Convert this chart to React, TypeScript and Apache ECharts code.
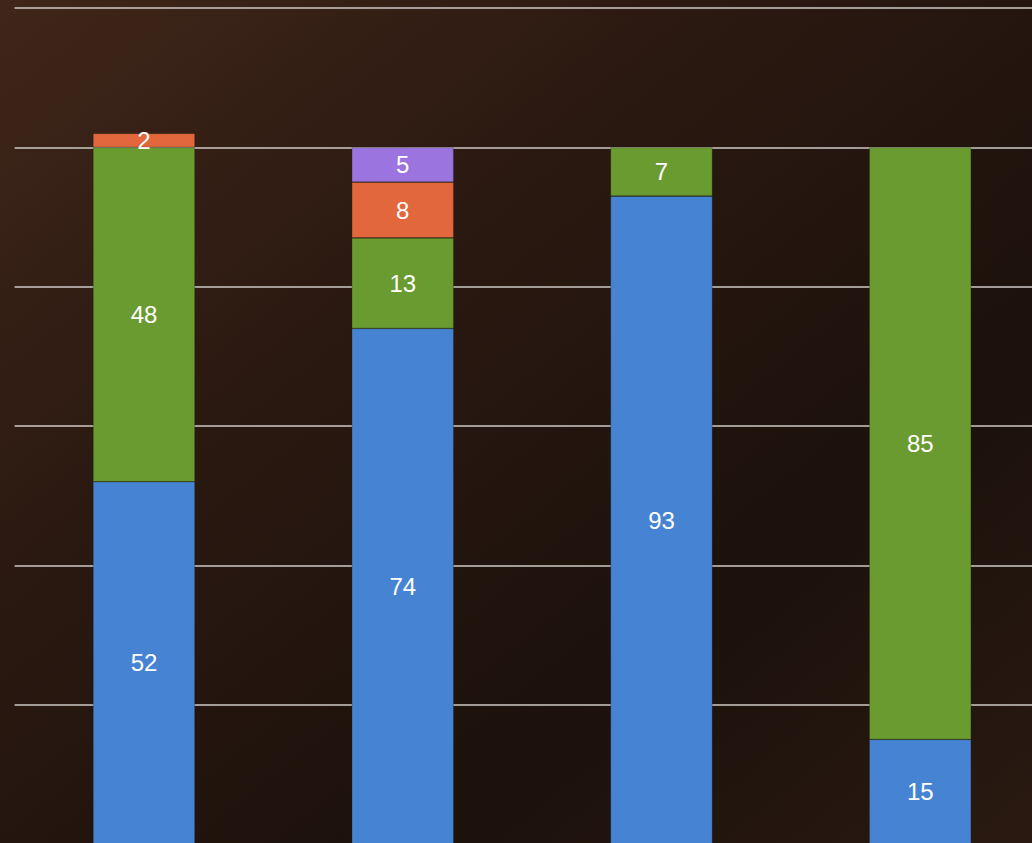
import React, { useEffect, useRef } from "react";
import * as echarts from "echarts";

const categories = ["A", "B", "C", "D"];
const blueValues = [52, 74, 93, 15];
const greenValues = [48, 13, 7, 85];
const orangeValues = [2, 8, null, null];
const purpleValues = [null, 5, null, null];

const seriesDefs = [
  { name: "Blue", data: blueValues, color: "#4684d3" },
  { name: "Green", data: greenValues, color: "#6a9b30" },
  { name: "Orange", data: orangeValues, color: "#e2673d" },
  { name: "Purple", data: purpleValues, color: "#9b74e0" },
];

export default function App() {
  const ref = useRef<HTMLDivElement>(null);
  useEffect(() => {
    if (!ref.current) return;
    const chart = echarts.init(ref.current, null, { renderer: "svg" });
    chart.setOption({
      animation: false,
      backgroundColor: {
        type: "linear",
        x: 0,
        y: 0,
        x2: 1,
        y2: 1,
        colorStops: [
          { offset: 0, color: "#40261a" },
          { offset: 0.35, color: "#2a1911" },
          { offset: 0.7, color: "#1c110b" },
          { offset: 1, color: "#2a1a12" },
        ],
      },
      grid: { left: 14.6, right: 0.4, top: 8, bottom: 2, containLabel: false },
      xAxis: {
        type: "category",
        data: categories,
        axisLine: { show: false },
        axisTick: { show: false },
        axisLabel: { show: false },
      },
      yAxis: {
        type: "value",
        min: 0,
        max: 120,
        interval: 20,
        axisLine: { show: false },
        axisTick: { show: false },
        axisLabel: { show: false },
        splitLine: { lineStyle: { color: "#cfcac6", width: 1.5 } },
      },
      series: seriesDefs.map((s) => ({
        name: s.name,
        type: "bar",
        stack: "total",
        barWidth: 102,
        data: s.data,
        itemStyle: { color: s.color, borderColor: "rgba(30,40,20,0.45)", borderWidth: 0.6 },
        label: {
          show: true,
          position: "inside",
          color: "#ffffff",
          fontSize: 24,
          fontFamily: "Liberation Sans, Arial, sans-serif",
          formatter: (p: any) => (p.value == null ? "" : String(p.value)),
        },
      })),
    });
    return () => chart.dispose();
  }, []);
  return (
    <div
      style={{
        position: "fixed",
        left: 0,
        top: 0,
        width: 1032,
        height: 843,
        overflow: "hidden",
      }}
    >
      <div ref={ref} style={{ width: 1050, height: 846 }} />
    </div>
  );
}
